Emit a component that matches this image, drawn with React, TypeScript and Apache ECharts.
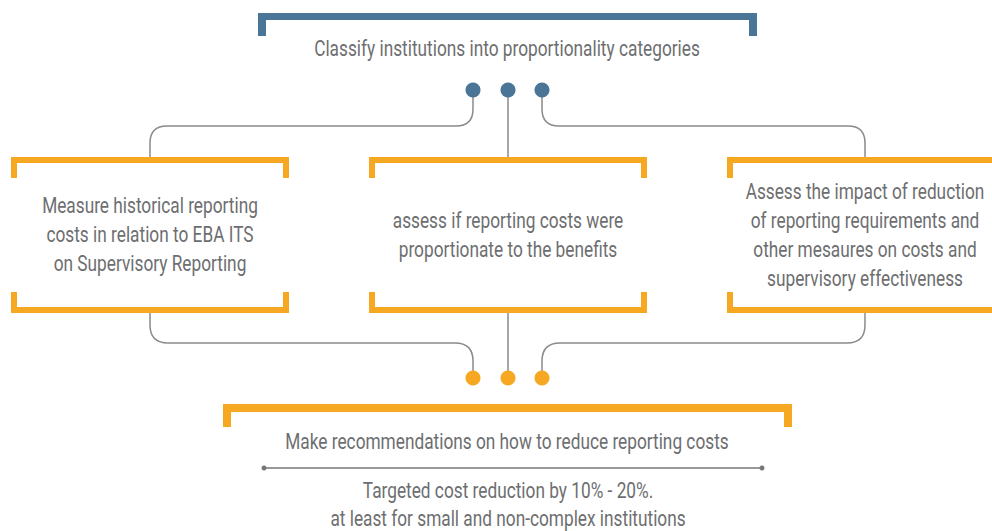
import React, { useEffect, useRef } from "react";
import * as echarts from "echarts";

const topLabel = "Classify institutions into proportionality categories";
const boxLabels: string[][] = [
  ["Measure historical reporting", "costs in relation to EBA ITS", "on Supervisory Reporting"],
  ["assess if reporting costs were", "proportionate to the benefits"],
  ["Assess the impact of reduction", "of reporting requirements and", "other mesaures on costs and", "supervisory effectiveness"],
];
const bottomLabel = "Make recommendations on how to reduce reporting costs";
const noteLines = ["Targeted cost reduction by 10% - 20%.", "at least for small and non-complex institutions"];

const BLUE = "#4A7596";
const ORANGE = "#F6A823";
const TEXT = "#6D6E70";
const LINE = "#8A8A8A";
const FONT = "Roboto, sans-serif";
const FS = 22;
const SX = 0.785;

const connectors = [
  "M473 90 V109 Q473 126 456 126 H167 Q150 126 150 143 V157",
  "M508 90 V157",
  "M542 90 V109 Q542 126 559 126 H848 Q865 126 865 143 V157",
  "M150 313 V325 Q150 343 168 343 H455 Q473 343 473 361 V378",
  "M508 313 V378",
  "M865 313 V325 Q865 343 847 343 H560 Q542 343 542 361 V378",
];

let registered = false;
function registerShapes() {
  if (registered) return;
  connectors.forEach((d, i) => {
    echarts.graphic.registerShape("conn" + i, echarts.graphic.extendPath(d, {}) as any);
  });
  registered = true;
}

function textEl(str: string, cx: number, cy: number) {
  return {
    type: "text",
    x: cx,
    y: cy,
    scaleX: SX,
    style: {
      text: str,
      x: 0,
      y: 0,
      textAlign: "center",
      verticalAlign: "middle",
      fill: TEXT,
      font: `${FS}px ${FONT}`,
    },
  };
}

function bracket(x1: number, x2: number, y: number, th: number, legW: number, legH: number, color: string, up: boolean) {
  const els: any[] = [];
  if (!up) {
    els.push({ type: "rect", shape: { x: x1, y, width: x2 - x1, height: th }, style: { fill: color } });
    els.push({ type: "rect", shape: { x: x1, y, width: legW, height: legH }, style: { fill: color } });
    els.push({ type: "rect", shape: { x: x2 - legW, y, width: legW, height: legH }, style: { fill: color } });
  } else {
    els.push({ type: "rect", shape: { x: x1, y: y - th, width: x2 - x1, height: th }, style: { fill: color } });
    els.push({ type: "rect", shape: { x: x1, y: y - legH, width: legW, height: legH }, style: { fill: color } });
    els.push({ type: "rect", shape: { x: x2 - legW, y: y - legH, width: legW, height: legH }, style: { fill: color } });
  }
  return els;
}

export default function App() {
  const ref = useRef<HTMLDivElement>(null);
  useEffect(() => {
    document.body.style.margin = "0";
    registerShapes();
    const chart = echarts.init(ref.current!, null, { renderer: "svg" });
    const els: any[] = [];

    connectors.forEach((_, i) => {
      els.push({ type: "conn" + i, x: 0, y: 0, style: { stroke: LINE, fill: "none", lineWidth: 1.5 } });
    });

    els.push(...bracket(258, 757, 13, 7, 8, 23, BLUE, false));
    els.push(textEl(topLabel, 507, 49));
    [473, 508, 542].forEach((x) => els.push({ type: "circle", shape: { cx: x, cy: 90, r: 7.5 }, style: { fill: BLUE } }));

    const boxes = [
      { x1: 11, x2: 289, cx: 150 },
      { x1: 369, x2: 647, cx: 508 },
      { x1: 727, x2: 1004, cx: 865 },
    ];
    boxes.forEach((b, i) => {
      els.push(...bracket(b.x1, b.x2, 157, 6, 6, 21, ORANGE, false));
      els.push(...bracket(b.x1, b.x2, 313, 6, 6, 21, ORANGE, true));
      const lines = boxLabels[i];
      const lh = 29;
      const c = 235;
      lines.forEach((ln, j) => {
        els.push(textEl(ln, b.cx, c + (j - (lines.length - 1) / 2) * lh));
      });
    });

    [473, 508, 542].forEach((x) => els.push({ type: "circle", shape: { cx: x, cy: 378, r: 7.5 }, style: { fill: ORANGE } }));

    els.push(...bracket(223, 792, 404, 8, 8, 23, ORANGE, false));
    els.push(textEl(bottomLabel, 507, 442));
    els.push({ type: "line", shape: { x1: 264, y1: 468, x2: 762, y2: 468 }, style: { stroke: "#777", lineWidth: 1.5 } });
    els.push({ type: "circle", shape: { cx: 264, cy: 468, r: 2.5 }, style: { fill: "#777" } });
    els.push({ type: "circle", shape: { cx: 762, cy: 468, r: 2.5 }, style: { fill: "#777" } });
    els.push(textEl(noteLines[0], 508, 491));
    els.push(textEl(noteLines[1], 508, 519));

    chart.setOption({ animation: false, graphic: { elements: els } });
    return () => chart.dispose();
  }, []);
  return <div ref={ref} style={{ width: 992, height: 531, background: "#fff" }} />;
}
